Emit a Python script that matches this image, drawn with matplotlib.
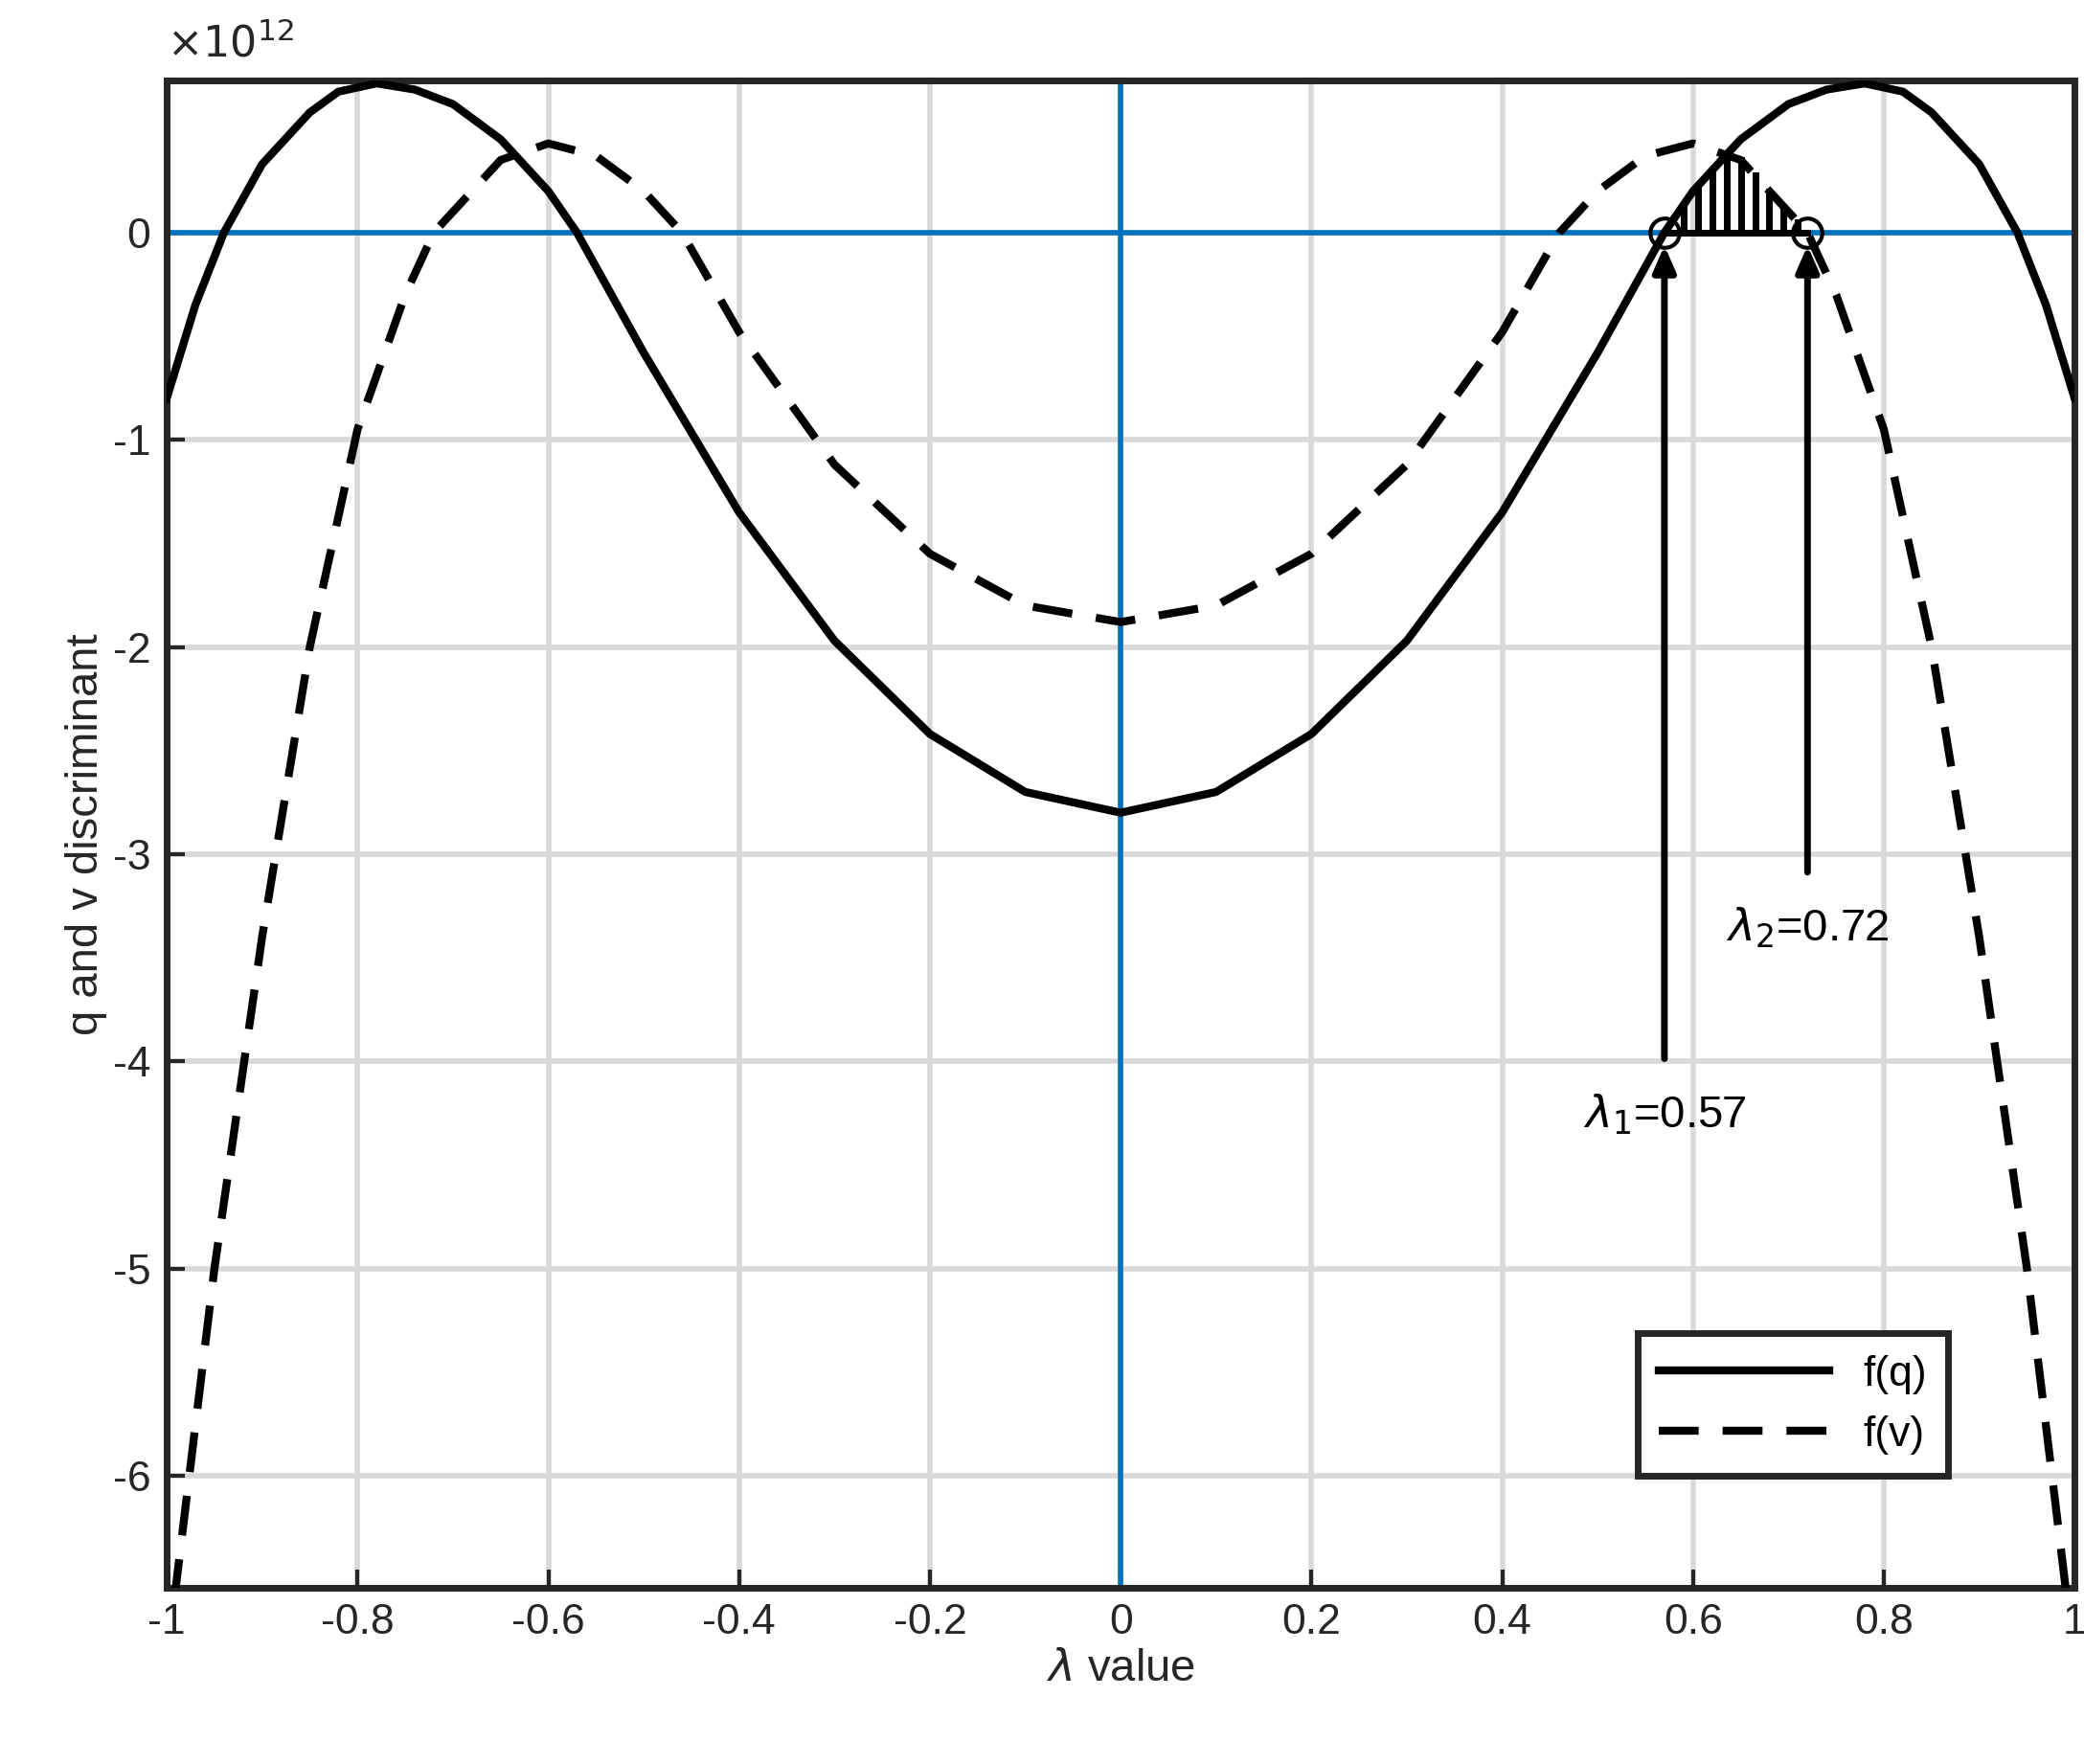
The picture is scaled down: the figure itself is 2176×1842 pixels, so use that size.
import numpy as np
import matplotlib.pyplot as plt

x_half = [0.0, 0.1, 0.2, 0.3, 0.4, 0.5, 0.57, 0.6, 0.65, 0.7, 0.74, 0.78, 0.82, 0.85, 0.9, 0.94, 0.97, 1.0]
fq_half = [-2.8, -2.7, -2.42, -1.97, -1.35, -0.58, 0.0, 0.2, 0.45, 0.62, 0.69, 0.72, 0.68, 0.58, 0.33, 0.0, -0.35, -0.8]
xv_half = [0.0, 0.1, 0.2, 0.3, 0.4, 0.46, 0.5, 0.55, 0.6, 0.65, 0.72, 0.75, 0.8, 0.85, 0.9, 0.95, 1.0]
fv_half = [-1.88, -1.8, -1.55, -1.12, -0.48, 0.0, 0.2, 0.37, 0.43, 0.35, 0.0, -0.3, -0.95, -2.0, -3.4, -5.0, -6.9]

xq = np.array([-v for v in x_half[::-1]] + x_half[1:])
yq = np.array(fq_half[::-1] + fq_half[1:])
xv = np.array([-v for v in xv_half[::-1]] + xv_half[1:])
yv = np.array(fv_half[::-1] + fv_half[1:])

lam1, lam2 = 0.57, 0.72
hatch_x = [0.59, 0.605, 0.62, 0.635, 0.65, 0.665, 0.68, 0.695, 0.71]

plt.rcParams['font.family'] = 'Liberation Sans'
fig = plt.figure(figsize=(21.76, 18.42), dpi=100)
ax = fig.add_axes([0.080, 0.1, 0.9155, 0.8545])
blue = '#0072BD'
ax.grid(True, color='#d9d9d9', lw=4)
ax.set_axisbelow(True)
ax.axhline(0, color=blue, lw=4, zorder=2)
ax.axvline(0, color=blue, lw=4, zorder=2)

ax.plot(xq, yq, color='black', lw=6, label='f(q)', zorder=3)
ax.plot(xv, yv, color='black', lw=6, ls=(0, (5, 3)), label='f(v)', zorder=3)

for hx in hatch_x:
    top = min(np.interp(hx, xq, yq), np.interp(hx, xv, yv))
    ax.plot([hx, hx], [0, top], color='black', lw=5, zorder=3)
ax.plot([lam1, lam2], [0, 0], color='black', lw=5, zorder=3)
ax.plot([lam1, lam2], [0, 0], 'o', mfc='none', mec='black', ms=22, mew=3, zorder=4)

for lam, ybase, label in [(lam1, -4.0, r'$\lambda_1$=0.57'), (lam2, -3.1, r'$\lambda_2$=0.72')]:
    ax.annotate('', xy=(lam, -0.05), xytext=(lam, ybase),
                arrowprops=dict(arrowstyle='-|>,head_length=1.6,head_width=0.7', color='black', lw=5))
    ax.text(lam, ybase - 0.15, label, ha='center', va='top', fontsize=34)

ax.set_xlim(-1, 1)
ax.set_ylim(-6.54, 0.735)
ax.set_xticks(np.arange(-1, 1.01, 0.2))
ax.set_xticklabels(['-1', '-0.8', '-0.6', '-0.4', '-0.2', '0', '0.2', '0.4', '0.6', '0.8', '1'])
ax.set_yticks([-6, -5, -4, -3, -2, -1, 0])
ax.set_yticklabels(['-6', '-5', '-4', '-3', '-2', '-1', '0'])
ax.tick_params(direction='in', labelsize=32, width=3, length=14, colors='#262626', pad=12)
for s in ax.spines.values():
    s.set_linewidth(5)
    s.set_color('#262626')
ax.set_xlabel(r'$\lambda$ value', fontsize=34, color='#262626')
ax.set_ylabel('q and v discriminant', fontsize=34, color='#262626')
ax.text(0.0, 1.01, r'$\times10^{12}$', transform=ax.transAxes, fontsize=32, color='#262626', va='bottom')

leg = ax.legend(loc='lower right', bbox_to_anchor=(0.945, 0.06), fontsize=32, fancybox=False,
                framealpha=1, edgecolor='#262626', handlelength=4, borderpad=0.5)
leg.get_frame().set_linewidth(5)
fig.savefig('out.png', dpi=100)
